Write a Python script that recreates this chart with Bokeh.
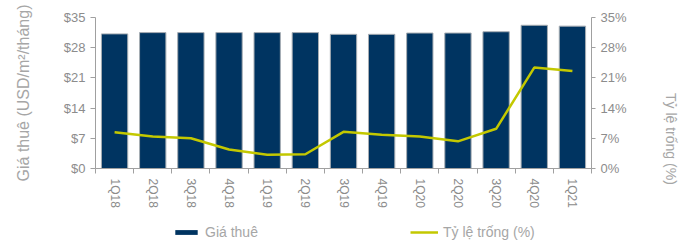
import math
from bokeh.plotting import figure
from bokeh.layouts import column
from bokeh.models import (Range1d, LinearAxis, FixedTicker, Legend, LegendItem,
                          ColumnDataSource, CustomJSTickFormatter)
from bokeh.embed import file_html
from bokeh.resources import INLINE

categories = ["1Q18", "2Q18", "3Q18", "4Q18", "1Q19", "2Q19", "3Q19",
              "4Q19", "1Q20", "2Q20", "3Q20", "4Q20", "1Q21"]
rent = [31.2, 31.5, 31.5, 31.5, 31.5, 31.5, 31.1, 31.1, 31.4, 31.4, 31.7, 33.2, 33.0]
vacancy = [8.4, 7.4, 7.0, 4.4, 3.2, 3.3, 8.5, 7.8, 7.4, 6.3, 9.2, 23.4, 22.6]
left_ticks = [0, 7, 14, 21, 28, 35]
right_ticks = [0, 7, 14, 21, 28, 35]
rent_label = "Giá thuê"
vac_label = "Tỷ lệ trống (%)"
left_title = "Giá thuê (USD/m²/tháng)"
right_title = "Tỷ lệ trống (%)"

pos = [i + 0.5 for i in range(len(categories))]
src = ColumnDataSource(dict(x=pos, rent=rent, vac=vacancy, cat=categories))

FONT = "Liberation Sans"
TICK_COL = "#8c8c8c"
TITLE_COL = "#a6a6a6"
AXIS_COL = "#a0a0a0"
BAR_COL = "#003461"
BAR_EDGE = "#a7adb3"
LINE_COL = "#c3c800"

p = figure(width=689, height=212, output_backend="svg", toolbar_location=None,
           x_range=Range1d(0, len(categories)), y_range=Range1d(0, 35),
           min_border_left=95, min_border_right=76, min_border_top=17, min_border_bottom=44)
p.extra_y_ranges = {"vac": Range1d(0, 35)}
p.outline_line_color = None
p.xgrid.visible = False
p.ygrid.visible = False

bars = p.vbar(x="x", top="rent", width=0.69, source=src, fill_color=BAR_COL,
              line_color=BAR_EDGE, line_width=1)
line = p.line(x="x", y="vac", source=src, y_range_name="vac", line_color=LINE_COL,
              line_width=2.5)

# x axis
xa = p.xaxis[0]
xa.ticker = FixedTicker(ticks=pos, minor_ticks=list(range(len(categories) + 1)))
xa.major_label_overrides = {p_: c for p_, c in zip(pos, categories)}
xa.major_tick_line_color = None
xa.minor_tick_line_color = AXIS_COL
xa.minor_tick_out = 5
xa.minor_tick_in = 0
xa.axis_line_color = AXIS_COL
xa.major_label_orientation = "vertical"
xa.major_label_text_font = FONT
xa.major_label_text_font_size = "12px"
xa.major_label_text_color = TICK_COL
xa.major_label_standoff = 4

# left axis
ya = p.yaxis[0]
ya.ticker = FixedTicker(ticks=left_ticks, minor_ticks=[])
ya.formatter = CustomJSTickFormatter(code="return '$' + tick;")
ya.axis_label = left_title
ya.axis_label_text_font = FONT
ya.axis_label_text_font_size = "16px"
ya.axis_label_text_font_style = "normal"
ya.axis_label_text_color = TITLE_COL
ya.axis_label_standoff = 29
ya.major_label_text_font = FONT
ya.major_label_text_font_size = "13px"
ya.major_label_text_color = TICK_COL
ya.axis_line_color = AXIS_COL
ya.major_tick_line_color = AXIS_COL
ya.major_tick_out = 5
ya.major_tick_in = 0
ya.minor_tick_line_color = None

# right axis
ra = LinearAxis(y_range_name="vac")
ra.ticker = FixedTicker(ticks=right_ticks, minor_ticks=[])
ra.formatter = CustomJSTickFormatter(code="return tick + '%';")
ra.axis_label = right_title
ra.axis_label_text_font = FONT
ra.axis_label_text_font_size = "14px"
ra.axis_label_text_font_style = "normal"
ra.axis_label_text_color = TITLE_COL
ra.axis_label_standoff = 41
ra.axis_label_orientation = -math.pi / 2
ra.major_label_text_font = FONT
ra.major_label_text_font_size = "13px"
ra.major_label_text_color = TICK_COL
ra.axis_line_color = AXIS_COL
ra.major_tick_line_color = AXIS_COL
ra.major_tick_out = 4
ra.major_tick_in = 0
ra.minor_tick_line_color = None
p.add_layout(ra, "right")

# legend strip (renderers hidden; they only supply the legend glyph styles)
leg = figure(width=689, height=29, output_backend="svg", toolbar_location=None,
             x_range=Range1d(0, 1), y_range=Range1d(0, 1), min_border=0,
             x_axis_type=None, y_axis_type=None)
leg.outline_line_color = None
leg.xgrid.visible = False
leg.ygrid.visible = False
lb = leg.vbar(x="x", top="rent", width=0.69, source=src, fill_color=BAR_COL,
              line_color=None, visible=False)
ll = leg.line(x="x", y="vac", source=src, line_color=LINE_COL, line_width=2.5,
              visible=False)
legend = Legend(items=[LegendItem(label=rent_label, renderers=[lb]),
                       LegendItem(label=vac_label, renderers=[ll])],
                orientation="horizontal", location=(77, 1), spacing=152,
                glyph_width=28, glyph_height=6, label_standoff=5,
                label_text_font=FONT, label_text_font_size="14px",
                label_text_color=TITLE_COL, border_line_color=None,
                background_fill_alpha=0, padding=0, margin=0,
                inactive_fill_alpha=0)
leg.add_layout(legend, "center")

layout = column(p, leg, spacing=0)
open("out.html", "w").write(file_html(layout, INLINE))
